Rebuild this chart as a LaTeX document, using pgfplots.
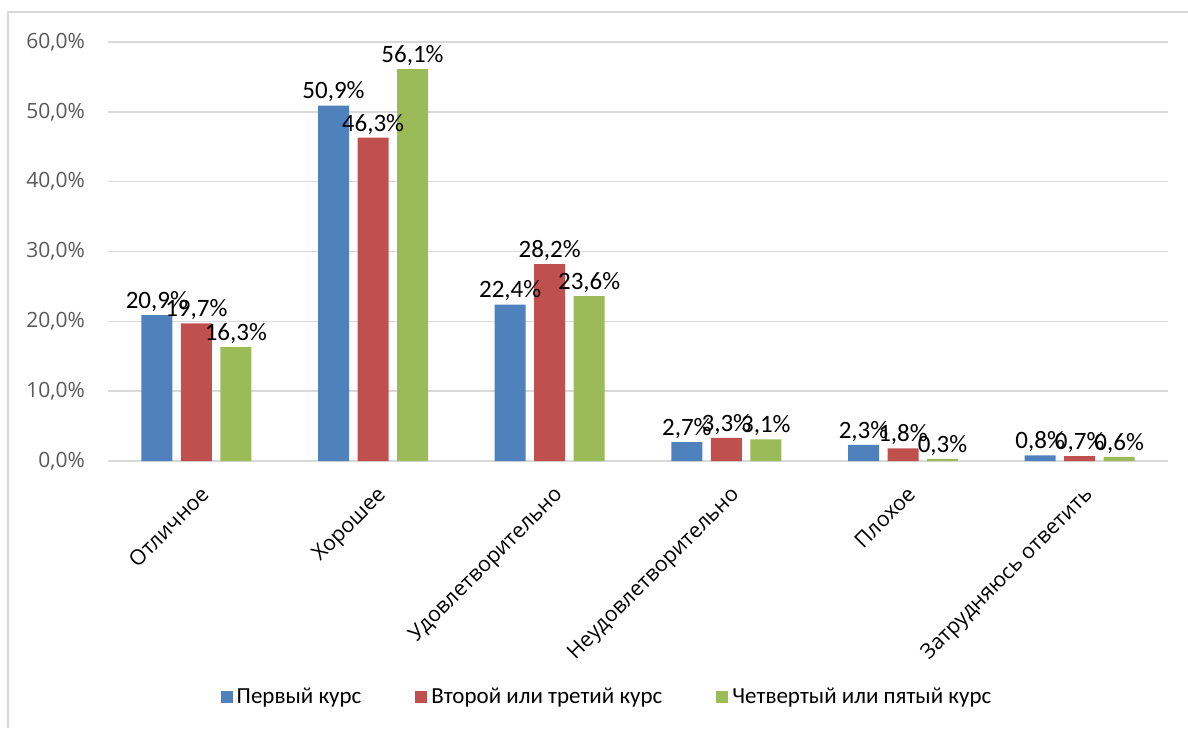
\documentclass[border=0pt]{standalone}
\usepackage{pgfplots}
\pgfplotsset{compat=1.18}
\usepackage{fontspec}
\setmainfont{Carlito}
\newfontfamily\osans{Open Sans}

\definecolor{sblue}{HTML}{4F81BD}
\definecolor{sred}{HTML}{C0504D}
\definecolor{sgreen}{HTML}{9BBB59}
\definecolor{gridc}{HTML}{D9D9D9}
\definecolor{tickc}{HTML}{595959}

\begin{document}
\begin{tikzpicture}
\path[use as bounding box] (0,0) rectangle (594pt,364pt);
\draw[gridc, line width=0.6pt] (4pt,0) -- (4pt,358pt) -- (594pt,358pt);
\begin{axis}[
    at={(54pt,133.5pt)}, anchor=south west,
    scale only axis, width=530pt, height=209.5pt,
    ybar=4.25pt, bar width=15.5pt,
    xmin=-0.5, xmax=5.5, ymin=0, ymax=60,
    xtick=data,
    xticklabels={Отличное,Хорошее,Удовлетворительно,Неудовлетворительно,Плохое,Затрудняюсь ответить},
    xticklabel style={font=\osans\fontsize{10.6}{12}\selectfont, rotate=45, anchor=north east, xshift=-4pt, yshift=-6pt},
    ytick={0,10,...,60},
    yticklabel={\pgfmathprintnumber[fixed,fixed zerofill,precision=1,use comma,assume math mode=true]{\tick}\%},
    yticklabel style={font=\osans\fontsize{10.5}{12}\selectfont, text=tickc, xshift=-8pt},
    ymajorgrids, grid style={gridc, line width=0.75pt},
    axis x line*=bottom, axis y line*=left,
    y axis line style={draw=none},
    x axis line style={gridc, line width=0.75pt},
    major tick length=0pt,
    nodes near coords={\pgfmathprintnumber[fixed,fixed zerofill,precision=1,use comma,assume math mode=true]{\pgfplotspointmeta}\%},
    every node near coord/.append style={font=\fontsize{12.5}{14}\selectfont, text=black, inner sep=1.5pt},
    legend columns=3,
    legend style={at={(0.4717,-0.563)}, anchor=center, draw=none, font=\fontsize{11.5}{13}\selectfont,
        /tikz/every even column/.append style={column sep=25pt}},
    legend image code/.code={\fill[#1] (0pt,-3pt) rectangle (6pt,3pt);},
]
\addplot[fill=sblue, draw=none] coordinates {(0,20.9) (1,50.9) (2,22.4) (3,2.7) (4,2.3) (5,0.8)};
\addplot[fill=sred, draw=none] coordinates {(0,19.7) (1,46.3) (2,28.2) (3,3.3) (4,1.8) (5,0.7)};
\addplot[fill=sgreen, draw=none] coordinates {(0,16.3) (1,56.1) (2,23.6) (3,3.1) (4,0.3) (5,0.6)};
\legend{Первый курс,Второй или третий курс,Четвертый или пятый курс}
\end{axis}
\end{tikzpicture}
\end{document}
